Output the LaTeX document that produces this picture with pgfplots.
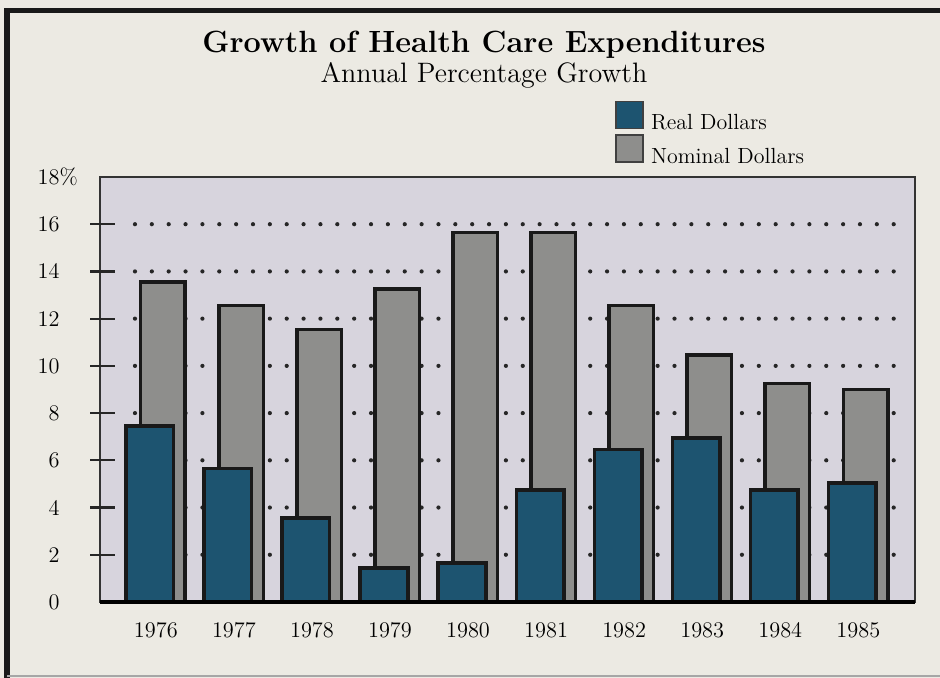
\documentclass[border=0pt]{standalone}
\usepackage{pgfplots}
\pgfplotsset{compat=1.18}
\definecolor{bg}{HTML}{ECEAE3}
\definecolor{plotbg}{HTML}{D7D4DD}
\definecolor{nomgray}{HTML}{8E8E8C}
\definecolor{realteal}{HTML}{1D5470}
\begin{document}
\begin{tikzpicture}[x=0.5bp,y=0.5bp]
\useasboundingbox (0,0) rectangle (940,678);
\fill[bg] (0,0) rectangle (940,678);
\draw[line width=2.5bp, black!90] (7,-5) -- (7,667) -- (945,667);
\draw[line width=0.8bp, black!35] (7,2) -- (945,2);
\node[anchor=base, font=\fontsize{15.4}{18}\selectfont\bfseries] at (484,625) {Growth of Health Care Expenditures};
\node[anchor=base, font=\fontsize{14.1}{16}\selectfont] at (484,595) {Annual Percentage Growth};
\begin{axis}[
  name=ax,
  at={(50bp,38bp)}, anchor=south west,
  scale only axis, width=407.5bp, height=212.5bp,
  xmin=-0.715, xmax=9.726, ymin=0, ymax=18,
  axis background/.style={fill=plotbg},
  axis line style={line width=1bp, draw=black!80},
  xtick={0,1,2,3,4,5,6,7,8,9},
  xticklabels={1976,1977,1978,1979,1980,1981,1982,1983,1984,1985},
  ytick={0,2,...,18},
  yticklabels={0,2,4,6,8,10,12,14,16,18\rlap{\%}},
  major tick length=0pt,
  ticklabel style={font=\fontsize{11.2}{13}\selectfont},
  xticklabel style={inner sep=0pt, yshift=-10bp},
  yticklabel style={inner sep=0pt, xshift=-20bp},
  griddot/.style={forget plot, no markers, line width=2.1bp, line cap=round, dash pattern=on 0pt off 8.43bp, black!85},
  mylegend/.style={legend image code/.code={\draw[##1, line width=0.8bp, draw=black!75] (0bp,-2.5bp) rectangle (13.5bp,11bp);}},
  reverse legend,
  legend style={at={(0.6319,1.18)}, anchor=north west, draw=none, fill=none, inner sep=0pt,
    nodes={inner sep=0pt, font=\fontsize{11}{13}\selectfont}, row sep=0.8bp, column sep=3.5bp},
  legend cell align=left,
]
\addplot[griddot] coordinates {(-0.267,2) (9.457,2)};
\addplot[griddot] coordinates {(-0.267,4) (9.457,4)};
\addplot[griddot] coordinates {(-0.267,6) (9.457,6)};
\addplot[griddot] coordinates {(-0.267,8) (9.457,8)};
\addplot[griddot] coordinates {(-0.267,10) (9.457,10)};
\addplot[griddot] coordinates {(-0.267,12) (9.457,12)};
\addplot[griddot] coordinates {(-0.267,14) (9.457,14)};
\addplot[griddot] coordinates {(-0.267,16) (9.457,16)};
\addplot[ybar, bar width=0.57, bar shift=0.092, fill=nomgray, draw=black!90, line width=1.75bp, mylegend]
  coordinates {(0,13.55) (1,12.55) (2,11.55) (3,13.25) (4,15.65) (5,15.65) (6,12.55) (7,10.45) (8,9.25) (9,9.0)};
\addlegendentry{Nominal Dollars}
\addplot[ybar, bar width=0.61, bar shift=-0.077, fill=realteal, draw=black!90, line width=1.75bp, mylegend]
  coordinates {(0,7.45) (1,5.65) (2,3.55) (3,1.45) (4,1.65) (5,4.75) (6,6.45) (7,6.95) (8,4.75) (9,5.05)};
\addlegendentry{Real Dollars}
\end{axis}
\foreach \v in {2,4,6,8,10,12,14,16}{
  \draw[line width=1.1bp, black!85] ([xshift=-5bp, yshift=\v*11.8056bp]ax.south west) -- ++(12.5bp,0);
}
\draw[line width=2bp, black] (ax.south west) -- (ax.south east);
\end{tikzpicture}
\end{document}
